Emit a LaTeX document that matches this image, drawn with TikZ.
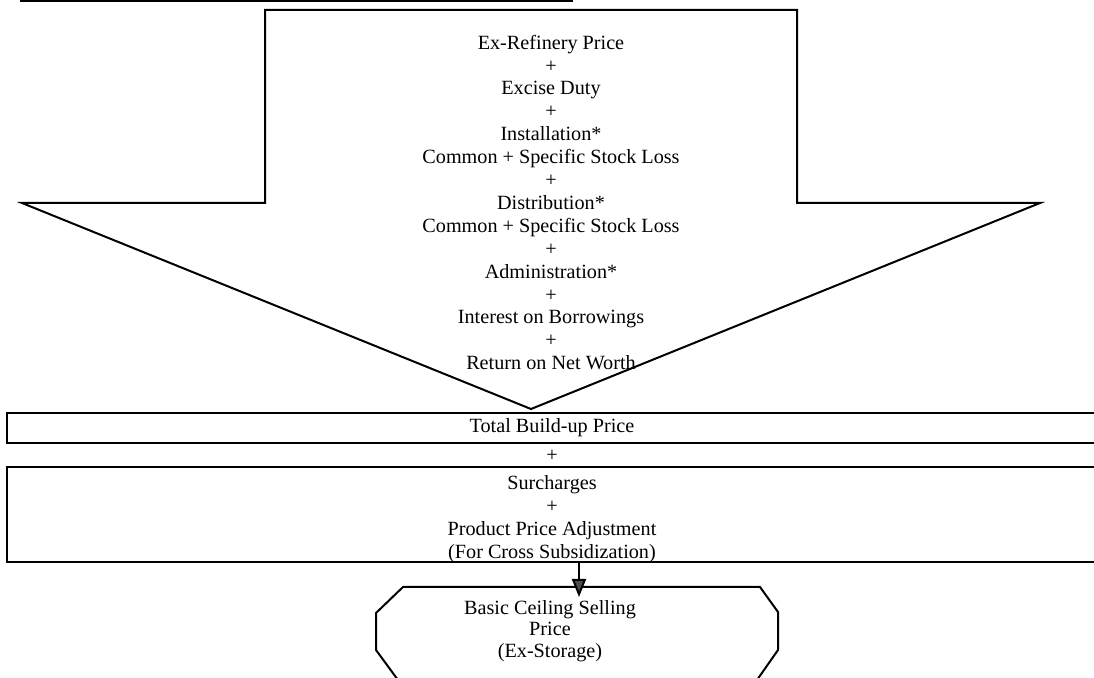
\documentclass[tikz,border=0pt]{standalone}
\usepackage{fontspec}
\setmainfont{Liberation Serif}
\usetikzlibrary{arrows.meta,positioning}
\definecolor{ink}{HTML}{000000}
\tikzset{
  >=Latex,
  every node/.style={font=\fontsize{10.1}{11.45}\selectfont,text=ink},
  outline/.style={draw=ink,line width=1pt},
  bandbox/.style={outline,minimum width=545pt,inner sep=0pt,align=center},
  stack/.style={align=center,inner sep=0pt},
  feed/.style={-{Triangle[width=7pt,length=9pt,fill=ink!70]},outline},
}

\begin{document}
\begin{tikzpicture}[x=0.5pt,y=-0.5pt]
\useasboundingbox (0,0) rectangle (1094,678);
\clip (0,0) rectangle (1094,678);

% header rule
\draw[outline] (20,1) -- (573,1);

% build-up arrow
\draw[outline] (265,10) -- (797,10) -- (797,203) -- (1040,203) -- (531,409) -- (22,203) -- (265,203) -- cycle;
\node[stack] (costs) at (551,202.5) {Ex-Refinery Price\\+\\Excise Duty\\+\\Installation*\\Common + Specific Stock Loss\\+\\Distribution*\\Common + Specific Stock Loss\\+\\Administration*\\+\\Interest on Borrowings\\+\\Return on Net Worth};

% totals
\node[bandbox,minimum height=15pt] (total) at (552,428) {Total Build-up Price};
\node[stack] (plus) at (552,456) {+};
\node[bandbox,minimum height=47.5pt] (surch) at (552,514.5) {};
\node[stack,font=\fontsize{10.1}{11.5}\selectfont] (surchtext) at (552,519.5) {Surcharges\\+\\Product Price Adjustment\\(For Cross Subsidization)};

% selling price
\draw[outline] (403,587) -- (760,587) -- (778,612) -- (778,650) -- (757,680) -- (398,680) -- (376,650) -- (376,613) -- cycle;
\node[stack,font=\fontsize{10.1}{10.75}\selectfont] (basic) at (550,631) {Basic Ceiling Selling\\Price\\(Ex-Storage)};
\coordinate (drop) at (579,597);
\draw[feed] (surch.south -| drop) -- (drop);

\end{tikzpicture}
\end{document}
